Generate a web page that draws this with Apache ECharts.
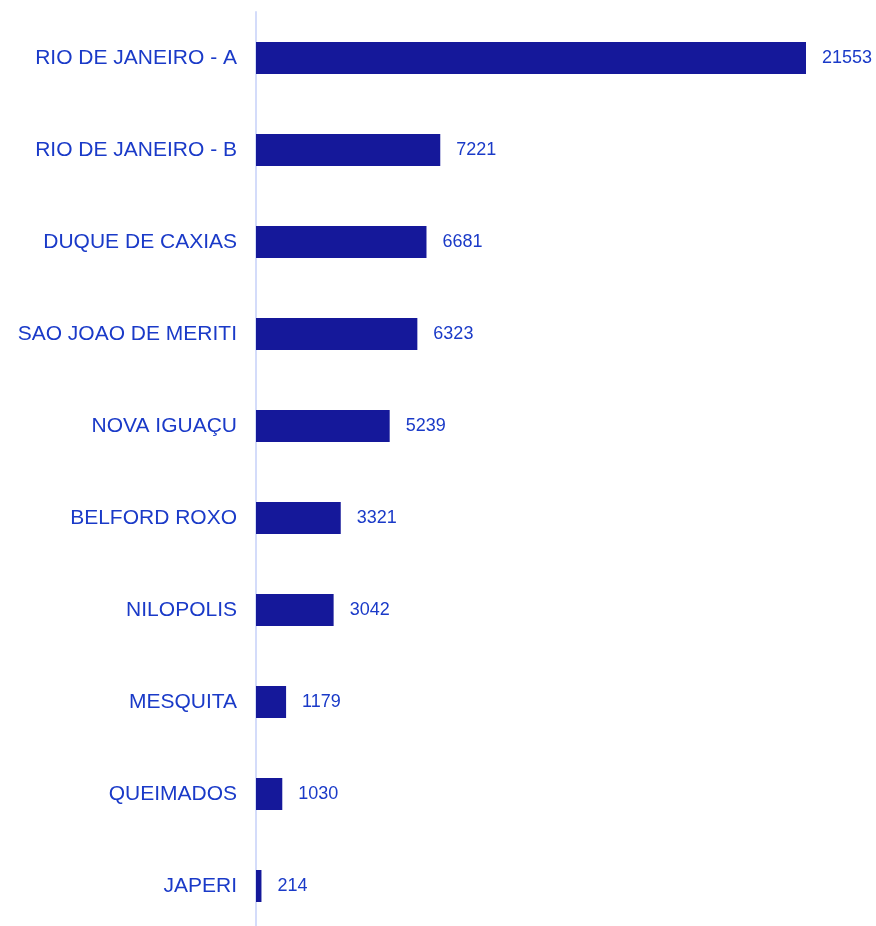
<!DOCTYPE html>
<html><head><meta charset="utf-8">
<script src="https://cdn.jsdelivr.net/npm/echarts@6/dist/echarts.min.js"></script>
<style>html,body{margin:0;padding:0;background:#fff;overflow:hidden}#c{width:876px;height:932px}</style>
</head><body><div id="c"></div>
<script>
const categories = ["RIO DE JANEIRO - A","RIO DE JANEIRO - B","DUQUE DE CAXIAS","SAO JOAO DE MERITI","NOVA IGUAÇU","BELFORD ROXO","NILOPOLIS","MESQUITA","QUEIMADOS","JAPERI"];
const values = [21553,7221,6681,6323,5239,3321,3042,1179,1030,214];
const FONT = "'Liberation Sans', Arial, sans-serif";
const chart = echarts.init(document.getElementById('c'), null, {renderer:'canvas'});
chart.setOption({
  animation:false,
  grid:{left:256,width:550,top:12,bottom:0,containLabel:false},
  xAxis:{type:'value',min:0,max:21553,show:false},
  yAxis:{type:'category',inverse:true,data:categories,
    axisLine:{show:true,lineStyle:{color:'#d4dcfa',width:2}},
    axisTick:{show:false},
    axisLabel:{color:'#1a3ac8',fontSize:21,fontFamily:FONT,margin:19}},
  series:[{type:'bar',data:values,barWidth:32,
    itemStyle:{color:'#15189a'},
    label:{show:true,position:'right',distance:16,color:'#1a3ac8',fontSize:18,fontFamily:FONT}}]
});
</script></body></html>
